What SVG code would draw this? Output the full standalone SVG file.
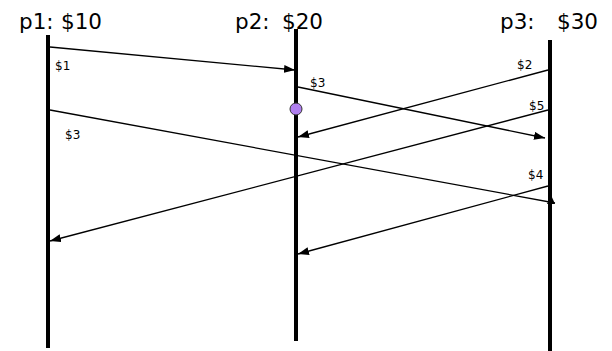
<svg xmlns="http://www.w3.org/2000/svg" width="612" height="351" viewBox="0 0 612 351">
<style>
.proc{stroke:#000;stroke-width:4;fill:none}
.title{font-family:"DejaVu Sans","Noto Sans",sans-serif;font-size:21.5px;fill:#000}
.lbl{font-family:"DejaVu Sans","Noto Sans",sans-serif;font-size:12px;fill:#000}
.msg{stroke:#000;stroke-width:1.3;fill:none;marker-end:url(#ah)}
</style>
<defs>
<marker id="ah" markerUnits="userSpaceOnUse" markerWidth="12" markerHeight="10" refX="11" refY="4" orient="auto">
<path d="M0,0 L11,4 L0,8 Z" fill="#000"/>
</marker>
</defs>
<rect width="612" height="351" fill="#fff"/>
<g id="p1">
<line class="proc" x1="48" y1="35" x2="48" y2="348"/>
<text class="title" y="29"><tspan x="19">p1:</tspan> <tspan x="61">$10</tspan></text>
</g>
<g id="p2">
<line class="proc" x1="296" y1="29" x2="296" y2="341"/>
<text class="title" y="29"><tspan x="235">p2:</tspan> <tspan x="282">$20</tspan></text>
<circle cx="296" cy="109" r="6" fill="#b07ff0" stroke="#333" stroke-width="1"/>
</g>
<g id="p3">
<line class="proc" x1="550" y1="40" x2="550" y2="351"/>
<text class="title" y="29"><tspan x="500">p3:</tspan> <tspan x="557">$30</tspan></text>
</g>
<g id="connectors">
<line class="msg" x1="50" y1="47" x2="295" y2="70"/>
<text class="lbl" x="55" y="70">$1</text>
<line class="msg" x1="298" y1="87" x2="545" y2="138"/>
<text class="lbl" x="310" y="87">$3</text>
<line class="msg" x1="548" y1="70" x2="298" y2="137"/>
<text class="lbl" x="517" y="69">$2</text>
<line class="msg" x1="548" y1="110" x2="50" y2="241"/>
<text class="lbl" x="529" y="110">$5</text>
<line stroke="#000" stroke-width="1.3" x1="50" y1="110" x2="555" y2="203"/>
<path d="M551,195 L555,204 L547,204 Z" fill="#000"/>
<text class="lbl" x="65" y="139">$3</text>
<line class="msg" x1="548" y1="186" x2="298" y2="254"/>
<text class="lbl" x="528" y="179">$4</text>
</g>
</svg>
